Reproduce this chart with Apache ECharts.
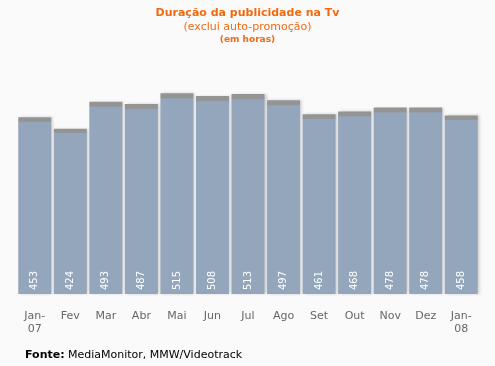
<!DOCTYPE html>
<html><head><meta charset="utf-8">
<script src="https://cdn.jsdelivr.net/npm/echarts@6/dist/echarts.min.js"></script>
<style>html,body{margin:0;padding:0;background:#fafafa}#c{width:495px;height:366px}</style>
</head><body><div id="c"></div>
<script>
const categories = ['Jan-\n07','Fev','Mar','Abr','Mai','Jun','Jul','Ago','Set','Out','Nov','Dez','Jan-\n08'];
const values = [453,424,493,487,515,508,513,497,461,468,478,478,458];
const titleText = 'Duração da publicidade na Tv';
const subText = '(exclui auto-promoção)';
const unitText = '(em horas)';
const sourceLabel = 'Fonte:';
const sourceText = 'MediaMonitor, MMW/Videotrack';

const chart = echarts.init(document.getElementById('c'));
const font = 'DejaVu Sans, Verdana, sans-serif';
chart.setOption({
  backgroundColor: '#fafafa',
  animation: false,
  title: [
    {text: titleText, left: 'center', top: 3, textStyle: {color: '#f26a10', fontSize: 11, fontWeight: 'bold', fontFamily: font}},
    {text: subText, left: 'center', top: 17, textStyle: {color: '#f26a10', fontSize: 11, fontWeight: 'normal', fontFamily: font}},
    {text: unitText, left: 'center', top: 30, textStyle: {color: '#f26a10', fontSize: 9, fontWeight: 'bold', fontFamily: font}}
  ],
  graphic: [{
    type: 'text', left: 25, top: 349,
    style: {rich: {b: {fontWeight: 'bold', fontSize: 11, fill: '#000', fontFamily: font}, n: {fontSize: 11, fill: '#000', fontFamily: font}},
      text: '{b|' + sourceLabel + '} {n|' + sourceText + '}'}
  }],
  grid: {left: 17, right: 16, top: 60, bottom: 72},
  xAxis: {
    type: 'category', data: categories,
    axisLine: {show: false}, axisTick: {show: false},
    axisLabel: {color: '#666', fontSize: 11, fontFamily: font, margin: 16, lineHeight: 13}
  },
  yAxis: {type: 'value', min: 0, max: 600, show: false, splitLine: {show: false}},
  series: [{
    type: 'bar', data: values, barCategoryGap: '7%',
    itemStyle: {
      color: new echarts.graphic.LinearGradient(0, 0, 0, 1, [
        {offset: 0, color: '#949494'}, {offset: 0.022, color: '#949494'},
        {offset: 0.03, color: '#94a6bc'}, {offset: 1, color: '#94a6bc'}
      ]),
      shadowColor: 'rgba(0,0,0,0.18)', shadowBlur: 3, shadowOffsetX: 2, shadowOffsetY: 0
    },
    label: {show: true, position: 'insideBottom', rotate: 90, align: 'left', verticalAlign: 'middle', distance: 4,
      color: '#fff', fontSize: 10, fontFamily: font}
  }]
});
</script></body></html>
